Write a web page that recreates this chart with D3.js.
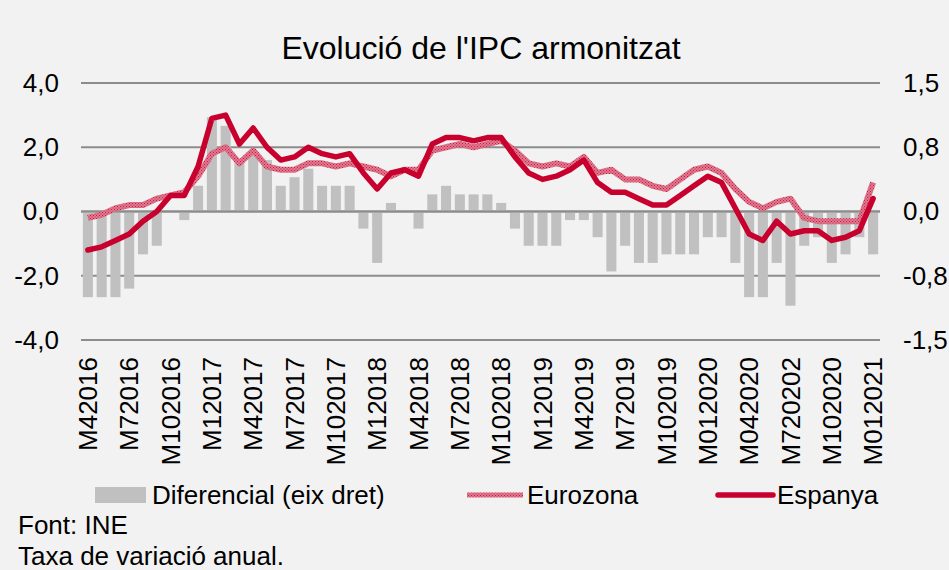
<!DOCTYPE html>
<html>
<head>
<meta charset="utf-8">
<script src="https://cdn.jsdelivr.net/npm/d3@7"></script>
<style>
  html,body{margin:0;padding:0;background:#f2f2f2;}
  svg{display:block;font-family:"Liberation Sans",Arial,sans-serif;}
</style>
</head>
<body>
<div id="chart"></div>
<script>
// mesos, d'abril 2016 a gener 2021
const mesos = [
  'M42016','M52016','M62016','M72016','M82016','M92016','M102016','M112016','M122016',
  'M12017','M22017','M32017','M42017','M52017','M62017','M72017','M82017','M92017','M102017','M112017','M122017',
  'M12018','M22018','M32018','M42018','M52018','M62018','M72018','M82018','M92018','M102018','M112018','M122018',
  'M12019','M22019','M32019','M42019','M52019','M62019','M72019','M82019','M92019','M102019','M112019','M122019',
  'M012020','M022020','M032020','M042020','M052020','M062020','M072020','M082020','M092020','M102020','M112020','M122020',
  'M012021'
];
// etiquetes de l'eix (una de cada tres)
const etiquetes = ['M42016','M72016','M102016','M12017','M42017','M72017','M102017','M12018','M42018','M72018',
  'M102018','M12019','M42019','M72019','M102019','M012020','M042020','M720202','M102020','M012021'];

const espanya = [-1.2,-1.1,-0.9,-0.7,-0.3,0.0,0.5,0.5,1.4,
  2.9,3.0,2.1,2.6,2.0,1.6,1.7,2.0,1.8,1.7,1.8,1.2,
  0.7,1.2,1.3,1.1,2.1,2.3,2.3,2.2,2.3,2.3,1.7,1.2,
  1.0,1.1,1.3,1.6,0.9,0.6,0.6,0.4,0.2,0.2,0.5,0.8,
  1.1,0.9,0.1,-0.7,-0.9,-0.3,-0.7,-0.6,-0.6,-0.9,-0.8,-0.6,
  0.4];
const eurozona = [-0.2,-0.1,0.1,0.2,0.2,0.4,0.5,0.6,1.1,
  1.8,2.0,1.5,1.9,1.4,1.3,1.3,1.5,1.5,1.4,1.5,1.4,
  1.3,1.1,1.3,1.3,1.9,2.0,2.1,2.0,2.1,2.2,1.9,1.5,
  1.4,1.5,1.4,1.7,1.2,1.3,1.0,1.0,0.8,0.7,1.0,1.3,
  1.4,1.2,0.7,0.3,0.1,0.3,0.4,-0.2,-0.3,-0.3,-0.3,-0.3,
  0.9];
// diferencial (eix dret)
const diferencial = [-1.0,-1.0,-1.0,-0.9,-0.5,-0.4,0.0,-0.1,0.3,
  1.1,1.0,0.6,0.7,0.6,0.3,0.4,0.5,0.3,0.3,0.3,-0.2,
  -0.6,0.1,0.0,-0.2,0.2,0.3,0.2,0.2,0.2,0.1,-0.2,-0.4,
  -0.4,-0.4,-0.1,-0.1,-0.3,-0.7,-0.4,-0.6,-0.6,-0.5,-0.5,-0.5,
  -0.3,-0.3,-0.6,-1.0,-1.0,-0.6,-1.1,-0.4,-0.3,-0.6,-0.5,-0.3,
  -0.5];

const ticksEsq = [-4,-2,0,2,4];
const ticksDre = [-1.5,-0.75,0,0.75,1.5];

const W=949,H=570;
const m={t:83,r:69,b:230,l:81}, iw=W-m.l-m.r, ih=H-m.t-m.b;
const vermell='#c8002e', gris='#c0c0c0', reixa='#8c8c8c', fs=26;
const coma=d=>d3.format('.1f')(d).replace('.',',').replace('−','-');

const svg=d3.select('#chart').append('svg').attr('width',W).attr('height',H);
svg.append('rect').attr('width',W).attr('height',H).attr('fill','#f2f2f2');

// trama de la línia eurozona
const pat=svg.append('defs').append('pattern').attr('id','trama')
  .attr('patternUnits','userSpaceOnUse').attr('width',3).attr('height',3);
pat.append('rect').attr('width',3).attr('height',3).attr('fill','#e07a91');
pat.append('rect').attr('width',1).attr('height',1).attr('fill','#c41e42');
pat.append('rect').attr('x',1.5).attr('y',1.5).attr('width',1).attr('height',1).attr('fill','#c41e42');

const g=svg.append('g').attr('transform',`translate(${m.l},${m.t})`);

const x=d3.scaleBand().domain(mesos).range([0,iw]).paddingInner(0.27).paddingOuter(0.135);
const xc=d=>x(d)+x.bandwidth()/2;
const y=d3.scaleLinear().domain([-4,4]).range([ih,0]);
const y2=d3.scaleLinear().domain([-1.5,1.5]).range([ih,0]);

// reixa
g.append('g').selectAll('line').data(ticksEsq).join('line')
  .attr('x1',0).attr('x2',iw).attr('y1',d=>y(d)).attr('y2',d=>y(d))
  .attr('stroke',reixa).attr('stroke-width',2);

// barres
g.append('g').selectAll('rect').data(diferencial).join('rect')
  .attr('x',(d,i)=>x(mesos[i]))
  .attr('width',x.bandwidth())
  .attr('y',d=>y2(Math.max(0,d)))
  .attr('height',d=>Math.abs(y2(d)-y2(0)))
  .attr('fill',gris);

g.append('line').attr('x1',0).attr('x2',iw).attr('y1',y(0)).attr('y2',y(0))
  .attr('stroke',reixa).attr('stroke-width',2);

const linia=d3.line().x((d,i)=>xc(mesos[i])).y(d=>y(d));
g.append('path').attr('d',linia(eurozona)).attr('fill','none')
  .attr('stroke','url(#trama)').attr('stroke-width',6).attr('stroke-linejoin','round');
g.append('path').attr('d',linia(espanya)).attr('fill','none')
  .attr('stroke',vermell).attr('stroke-width',5.5).attr('stroke-linejoin','round').attr('stroke-linecap','round');

// eixos
const axL=g.append('g').call(d3.axisLeft(y).tickValues(ticksEsq).tickFormat(coma).tickSize(0).tickPadding(22));
const axR=g.append('g').attr('transform',`translate(${iw},0)`)
  .call(d3.axisRight(y2).tickValues(ticksDre).tickFormat(coma).tickSize(0).tickPadding(23));
const idx=d3.range(0,mesos.length,3);
const axB=g.append('g').attr('transform',`translate(0,${ih})`)
  .call(d3.axisBottom(x).tickValues(idx.map(i=>mesos[i])).tickFormat((d,i)=>etiquetes[i]).tickSize(0));
[axL,axR,axB].forEach(a=>{a.select('.domain').remove();a.selectAll('text').attr('font-size',fs).attr('fill','#000').attr('font-family','"Liberation Sans",Arial,sans-serif');});
axB.selectAll('text').attr('transform','rotate(-90)').attr('text-anchor','end')
  .attr('x',-17).attr('y',0).attr('dy','0.35em');

// títol
svg.append('text').attr('x',481).attr('y',59).attr('text-anchor','middle')
  .attr('font-size',32).attr('fill','#000').text("Evolució de l'IPC armonitzat");

// llegenda
const lg=svg.append('g').attr('font-size',fs).attr('fill','#000');
lg.append('rect').attr('x',95).attr('y',487).attr('width',51).attr('height',16).attr('fill',gris);
lg.append('text').attr('x',152).attr('y',504).text('Diferencial (eix dret)');
lg.append('line').attr('x1',467).attr('x2',523).attr('y1',495).attr('y2',495)
  .attr('stroke','url(#trama)').attr('stroke-width',5);
lg.append('text').attr('x',527).attr('y',504).text('Eurozona');
lg.append('line').attr('x1',718).attr('x2',773).attr('y1',495).attr('y2',495)
  .attr('stroke',vermell).attr('stroke-width',5.5).attr('stroke-linecap','round');
lg.append('text').attr('x',777).attr('y',504).text('Espanya');

svg.append('text').attr('x',18).attr('y',534).attr('font-size',fs).attr('fill','#000').text('Font: INE');
svg.append('text').attr('x',18).attr('y',565).attr('font-size',fs).attr('fill','#000').text('Taxa de variació anual.');
</script>
</body>
</html>
